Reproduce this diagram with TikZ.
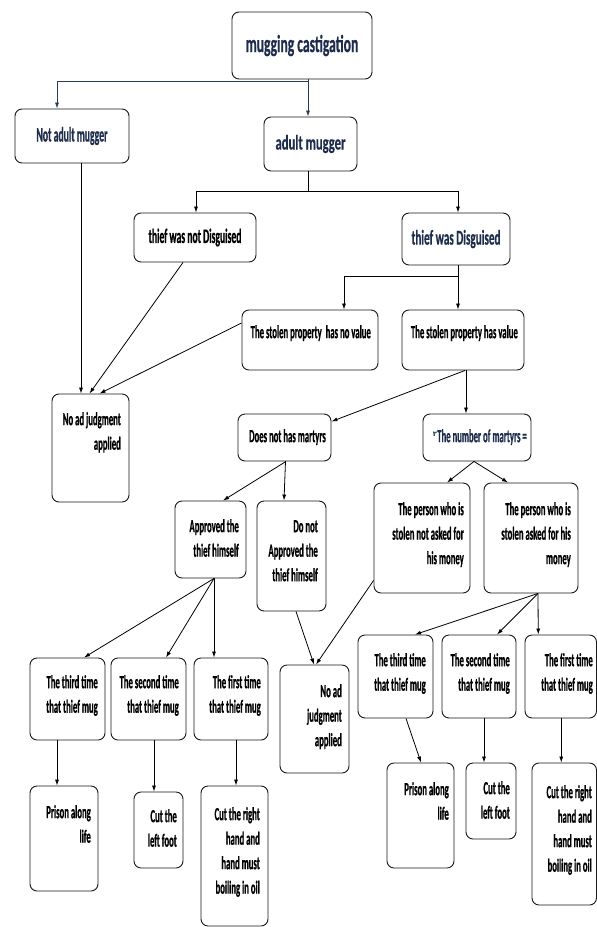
\documentclass[tikz,border=0pt]{standalone}
\usepackage{fontspec}
\newfontfamily\cfs[FakeStretch=0.47,BoldFeatures={FakeStretch=0.47,FakeBold=0.6}]{Carlito}
\newfontfamily\cfad[FakeStretch=0.61,BoldFeatures={FakeStretch=0.61,FakeBold=0.5}]{Carlito}
\newfontfamily\cfd[FakeStretch=0.53,BoldFeatures={FakeStretch=0.53,FakeBold=0.5}]{Carlito}
\newfontfamily\cft[FakeStretch=0.556,BoldFeatures={FakeStretch=0.556,FakeBold=0.5}]{Carlito}
\newfontfamily\arabicfont[Script=Arabic]{DejaVu Sans}
\usetikzlibrary{arrows.meta}
\definecolor{navy}{HTML}{1F2D4D}
\definecolor{navyline}{HTML}{2B3A55}
\tikzset{
  bx/.style={draw=black!90, line width=0.9pt, rounded corners=7pt, fill=white, inner sep=0pt},
  txt/.style={font=\cfs\bfseries\fontsize{18.5}{24.5}\selectfont, align=right, inner sep=0pt, anchor=north east},
  bigt/.style={font=\cft\bfseries\fontsize{24.5}{28}\selectfont, text=navy},
  nat/.style={font=\cfs\bfseries\fontsize{20.7}{24}\selectfont, text=navy},
  adt/.style={font=\cfad\bfseries\fontsize{20.7}{24}\selectfont, text=navy},
  ndt/.style={font=\cfs\bfseries\fontsize{20.5}{24}\selectfont, text=black},
  dt/.style={font=\cfd\bfseries\fontsize{21}{24}\selectfont, text=navy},
  ln/.style={line width=0.8pt, draw=black},
  arr/.style={ln, -{Latex[length=6pt,width=4pt]}},
  narr/.style={line width=0.8pt, draw=navyline, -{Latex[length=6pt,width=4pt]}},
}
\newcommand\mkbox[7][]{\node[bx, minimum width={#5-#3}, minimum height={#6-#4}, #1] (#2) at ({(#3+#5)/2},{(#4+#6)/2}) {#7};}
\newcommand\tx[4]{\node[txt] (#1) at (#2,#3) {#4};}
\begin{document}
\begin{tikzpicture}[x=1pt,y=-1pt]
\useasboundingbox[fill=white] (0,0) rectangle (597,927);
% boxes
\mkbox[bigt]{top}{232}{12}{372}{79}{mugging castigation}
\mkbox[nat]{notadult}{15}{109}{129}{163}{Not adult mugger}
\mkbox[adt]{adult}{264}{117}{357}{171}{adult mugger}
\mkbox[ndt]{notdis}{134}{213}{256}{262}{thief was not Disguised}
\mkbox[dt]{dis}{402}{213}{510}{265}{thief was Disguised}
\mkbox{novalue}{242}{310}{378}{370}{}
\mkbox{value}{402}{310}{524}{370}{}
\mkbox{noadone}{52}{394}{129}{502}{}
\mkbox{nomart}{238}{414}{331}{461}{}
\mkbox{nummart}{423}{414}{531}{461}{}
\mkbox{appr}{175}{501}{246}{578}{}
\mkbox{notappr}{257}{501}{326}{611}{}
\mkbox{pnot}{374}{483}{470}{593}{}
\mkbox{pask}{484}{483}{578}{593}{}
\mkbox{lthree}{30}{658}{105}{740}{}
\mkbox{ltwo}{111}{658}{186}{740}{}
\mkbox{lone}{194}{658}{268}{740}{}
\mkbox{lp}{30}{786}{98}{891}{}
\mkbox{lf}{134}{792}{183}{868}{}
\mkbox{lh}{201}{786}{268}{926}{}
\mkbox{noadtwo}{280}{665}{349}{773}{}
\mkbox{rthree}{358}{635}{433}{718}{}
\mkbox{rtwo}{442}{635}{516}{718}{}
\mkbox{rone}{525}{635}{596.5}{718}{}
\mkbox{rp}{387}{763}{454}{868}{}
\mkbox{rf}{466}{763}{516}{839}{}
\mkbox{rh}{532}{763}{596.5}{905}{}
% texts
\tx{t-novalue}{371}{325}{The stolen property~ has no value}
\tx{t-value}{518}{325}{The stolen property has value}
\tx{t-noadone}{121}{412}{No ad judgment\\applied}
\tx{t-nomart}{326}{429}{Does not has martyrs}
\node[txt, text=navy] (t-nummart) at (527,429) {\raisebox{6pt}{\arabicfont\fontsize{7}{7}\selectfont ٢}The number of martyrs =};
\tx{t-appr}{239}{519}{Approved the\\thief himself}
\tx{t-notappr}{318}{520}{Do not\\Approved the\\thief himself}
\tx{t-pnot}{464}{502}{The person who is\\stolen not asked for\\his money}
\tx{t-pask}{571}{502}{The person who is\\stolen asked for his\\money}
\tx{t-lthree}{98}{675}{The third time\\that thief mug}
\tx{t-ltwo}{179}{675}{The second time\\that thief mug}
\tx{t-lone}{261}{675}{The first time\\that thief mug}
\tx{t-lp}{91}{805}{Prison along\\life}
\tx{t-lf}{177}{809}{Cut the\\left foot}
\tx{t-lh}{260}{807}{Cut the right\\hand and\\hand must\\boiling in oil}
\tx{t-noadtwo}{342}{684}{No ad\\judgment\\applied}
\tx{t-rthree}{426}{653}{The third time\\that thief mug}
\tx{t-rtwo}{510}{653}{The second time\\that thief mug}
\tx{t-rone}{593}{653}{The first time\\that thief mug}
\tx{t-rp}{449}{782}{Prison along\\life}
\tx{t-rf}{510}{781}{Cut the\\left foot}
\tx{t-rh}{592}{785}{Cut the right\\hand and\\hand must\\boiling in oil}
% connectors
\coordinate (jone) at (308,81);
\coordinate (jtwo) at (308,191);
\coordinate (jthree) at (458,276);
\coordinate (jthreeb) at (344,276);
\draw[line width=0.8pt, draw=navyline] (top.south -| jone) -- (jone);
\draw[narr] (jone) -| ([xshift=-15pt]notadult.north);
\draw[narr] (jone) -- (adult.north -| jone);
\draw[ln] (adult.south -| jtwo) -- (jtwo);
\draw[arr] (jtwo) -| ([xshift=1pt]notdis.north);
\draw[arr] (jtwo) -| ([xshift=2pt]dis.north);
\draw[ln] (dis.south -| jthree) -- (jthree);
\draw[arr] (jthree) -- (value.north -| jthree);
\draw[arr] (jthree) -- (jthreeb) -- (novalue.north -| jthreeb);
\draw[arr] ([xshift=9pt]notadult.south) -- ([xshift=-9.5pt]noadone.north);
\draw[arr] ([xshift=-12pt]notdis.south) -- ([xshift=-1pt]noadone.north);
\draw[arr] ([yshift=17pt]novalue.west) -- ([xshift=9pt]noadone.north);
\draw[arr] ([xshift=2pt]value.south) -- ([yshift=16pt]nomart.east);
\draw[arr] ([xshift=3pt]value.south) -- ([xshift=-11pt]nummart.north);
\draw[arr] ([xshift=1.5pt]nomart.south) -- ([xshift=12.5pt]appr.north);
\draw[arr] ([xshift=1pt]nomart.south) -- ([xshift=-7.5pt]notappr.north);
\draw[arr] ([xshift=-3pt]nummart.south) -- ([xshift=25pt]pnot.north);
\draw[arr] ([xshift=-3pt]nummart.south) -- ([xshift=-23pt]pask.north);
\draw[arr] ([xshift=3.5pt]appr.south) -- ([xshift=16.5pt]lthree.north);
\draw[arr] ([xshift=3.5pt]appr.south) -- ([xshift=17.5pt]ltwo.north);
\draw[arr] ([xshift=3.5pt]appr.south) -- ([xshift=-17pt]lone.north);
\draw[arr] ([xshift=4.5pt]notappr.south) -- ([xshift=-0.5pt]noadtwo.north);
\draw[arr] ([yshift=13pt]pnot.south west) -- ([xshift=1.5pt]noadtwo.north);
\draw[arr] ([xshift=7pt]pask.south) -- ([xshift=19.5pt]rthree.north);
\draw[arr] ([xshift=7pt]pask.south) -- ([xshift=18pt]rtwo.north);
\draw[arr] ([xshift=7pt]pask.south) -- ([xshift=-22.5pt]rone.north);
\draw[arr] ([xshift=-10.5pt]lthree.south) -- ([xshift=-7pt]lp.north);
\draw[arr] ([xshift=5.5pt]ltwo.south) -- ([xshift=-4.5pt]lf.north);
\draw[arr] ([xshift=5pt]lone.south) -- ([xshift=1.5pt]lh.north);
\draw[arr] ([xshift=10.5pt]rthree.south) -- ([xshift=0.5pt]rp.north);
\draw[arr] ([xshift=5pt]rtwo.south) -- ([xshift=-7pt]rf.north);
\draw[arr] ([xshift=0.5pt]rone.south) -- ([xshift=-3pt]rh.north);
\end{tikzpicture}
\end{document}
